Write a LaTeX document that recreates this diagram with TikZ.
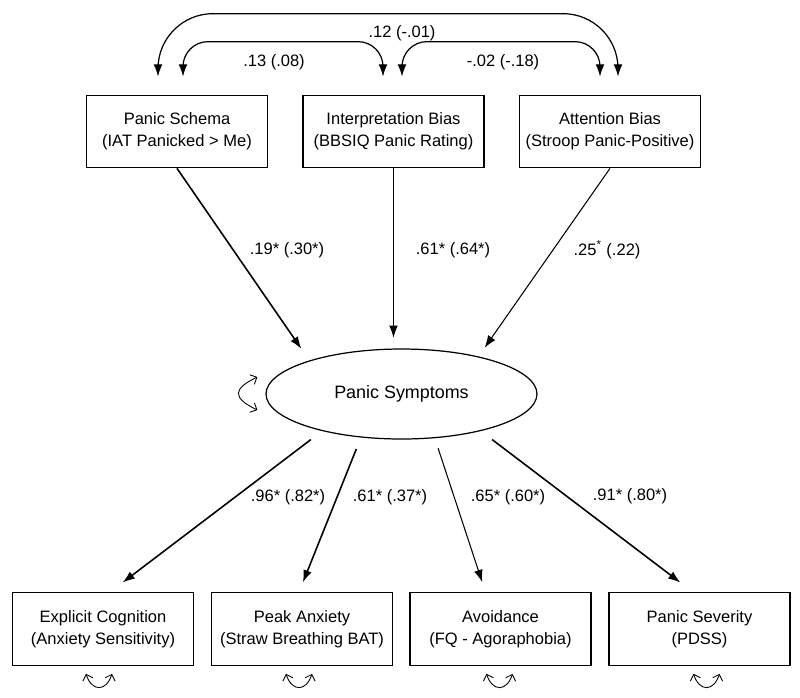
\documentclass[tikz,border=0pt]{standalone}
\usepackage{fontspec}
\setmainfont{Liberation Sans}
\usetikzlibrary{shapes.geometric,arrows.meta}

\begin{document}
\begin{tikzpicture}[x=0.02cm, y=-0.02cm,
  every node/.style={font=\fontsize{9.4}{12.5}\selectfont},
  obs/.style={draw, line width=0.7pt, minimum width=3.62cm, minimum height=1.45cm, align=center, inner sep=1pt},
  lat/.style={ellipse, draw, line width=0.7pt, minimum width=5.42cm, minimum height=1.8cm, font=\fontsize{10.2}{12.5}\selectfont},
  reg/.style={-{Latex[length=7pt,width=5pt]}, line width=0.6pt},
  regb/.style={-{Latex[length=7pt,width=5pt]}, line width=0.9pt},
  corr/.style={{Latex[length=7pt,width=5pt]}-{Latex[length=7pt,width=5pt]}, line width=0.7pt, shorten <=0.36cm, shorten >=0.36cm},
  var/.style={{Straight Barb[length=3pt,width=6pt]}-{Straight Barb[length=3pt,width=6pt]}, line width=0.5pt}]

%\draw[help lines, color=gray!30, dashed] (0,0) grid[step=50] (800,697);
\useasboundingbox (0,0) rectangle (800,697);

\node[obs] (ps) at (177,131.5) {Panic Schema\\(IAT Panicked > Me)};
\node[obs] (ib) at (393.5,131.5) {Interpretation Bias\\(BBSIQ Panic Rating)};
\node[obs] (ab) at (610,131.5) {Attention Bias\\(Stroop Panic-Positive)};
\node[lat] (sym) at (401.5,394) {Panic Symptoms};
\node[obs] (ec) at (103,629) {Explicit Cognition\\(Anxiety Sensitivity)};
\node[obs] (pa) at (302,629) {Peak Anxiety\\(Straw Breathing BAT)};
\node[obs] (av) at (500.5,629) {Avoidance\\(FQ - Agoraphobia)};
\node[obs] (sev) at (699.5,629) {Panic Severity\\(PDSS)};

\draw[corr, rounded corners=1.1cm] ([xshift=-0.38cm]ps.north) -- ++(0,-81) -| ([xshift=0.16cm]ab.north);
\draw[corr, rounded corners=0.5cm] ([xshift=0.12cm]ps.north) -- ++(0,-53) -| ([xshift=-0.21cm]ib.north);
\draw[corr, rounded corners=0.5cm] ([xshift=0.17cm]ib.north) -- ++(0,-53) -| ([xshift=-0.2cm]ab.north);
\node (r12) at (402,33) {.12 (-.01)};
\node (r13) at (274,62) {.13 (.08)};
\node (r02) at (503,62) {-.02 (-.18)};

\draw[regb, shorten >=8pt] (ps.south) -- (sym.160);
\draw[reg, line width=0.7pt, shorten >=6pt] (ib.south) -- (ib.south |- sym.north);
\draw[reg, shorten >=6pt] (ab.south) -- (sym.26);
\node (b1) at (287,250) {.19* (.30*)};
\node (b2) at (453,250) {.61* (.64*)};
\node (b3) at (607,250) {.25\textsuperscript{*} (.22)};

\draw[regb, shorten <=8pt, shorten >=9pt] (sym.205) -- ([xshift=0.14cm]ec.north);
\draw[regb, shorten <=7pt, shorten >=6pt] (sym.227) -- ([xshift=-0.06cm]pa.north);
\draw[reg, shorten <=6pt, shorten >=6pt] (sym.307) -- ([xshift=-0.3cm]av.north);
\draw[regb, shorten <=8pt, shorten >=9pt] (sym.335) -- ([xshift=-0.13cm]sev.north);
\node (l1) at (288,497) {.96* (.82*)};
\node (l2) at (390,497) {.61* (.37*)};
\node (l3) at (508,497) {.65* (.60*)};
\node (l4) at (630,496) {.91* (.80*)};

\draw[var] ([shift={(-8,-17)}]sym.west) .. controls +(-25,12) and +(-25,-12) .. ([shift={(-8,16)}]sym.west);
\foreach \b/\s in {ec/-4, pa/-3, av/-1, sev/7}
  \draw[var] ([shift={(\s-13,8)}]\b.south) .. controls +(6,18) and +(-6,18) .. ([shift={(\s+13,8)}]\b.south);

\end{tikzpicture}
\end{document}
